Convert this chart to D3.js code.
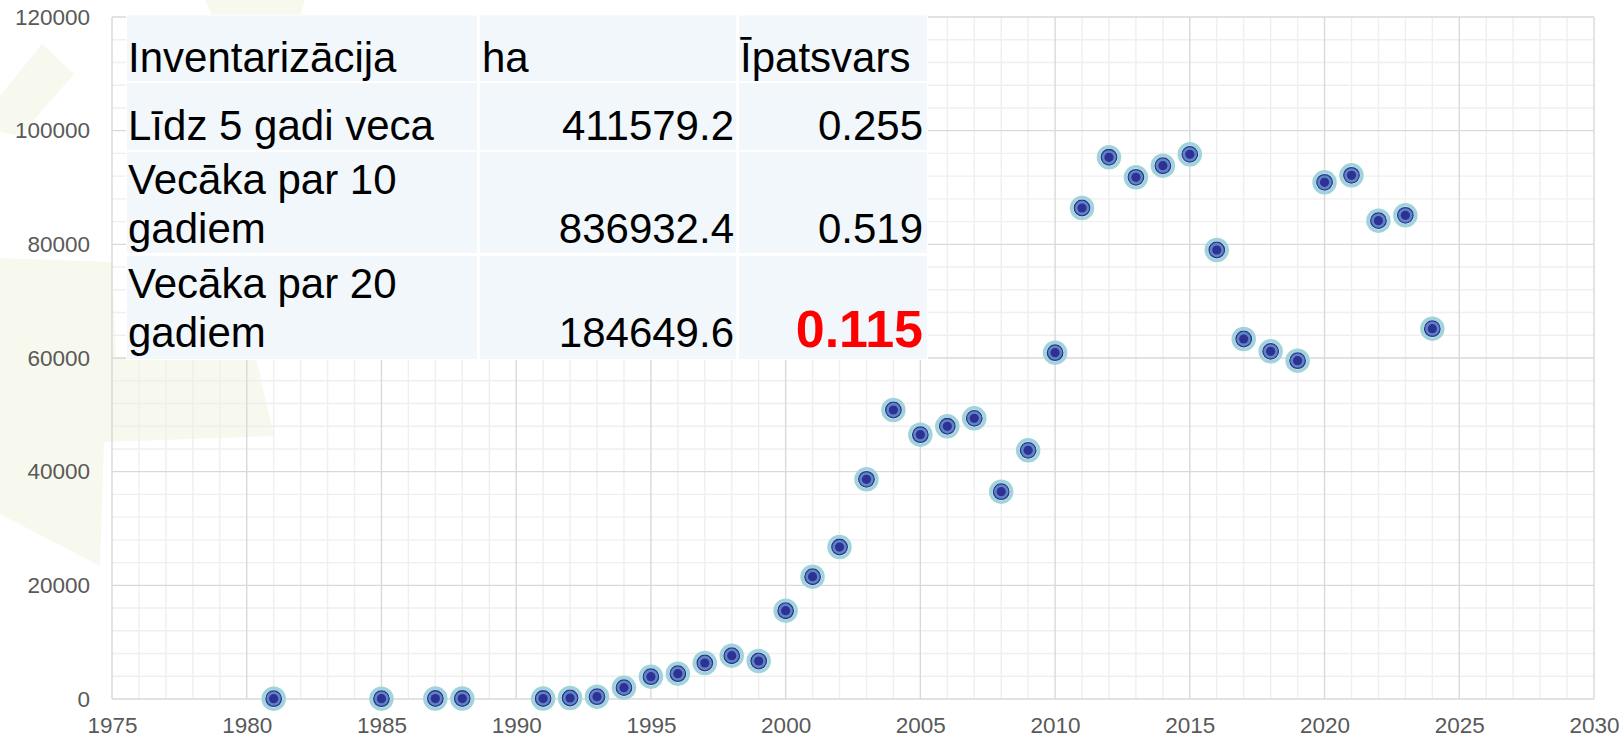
<!DOCTYPE html>
<html>
<head>
<meta charset="utf-8">
<script src="https://cdn.jsdelivr.net/npm/d3@7"></script>
<style>
  html, body { margin: 0; padding: 0; background: #ffffff; }
  svg { display: block; font-family: "Liberation Sans", Arial, sans-serif; }
</style>
</head>
<body>
<svg id="chart" width="1622" height="740"></svg>
<script>
// ---- data ----
const years = [1981, 1985, 1987, 1988, 1991, 1992, 1993, 1994, 1995, 1996, 1997, 1998, 1999,
  2000, 2001, 2002, 2003, 2004, 2005, 2006, 2007, 2008, 2009, 2010, 2011, 2012, 2013, 2014,
  2015, 2016, 2017, 2018, 2019, 2020, 2021, 2022, 2023, 2024];
const values = [60, 60, 80, 80, 80, 180, 410, 2000, 3930, 4460, 6330, 7620, 6690,
  15540, 21520, 26740, 38650, 50850, 46510, 47980, 49380, 36480, 43750, 60940, 86390, 95310, 91790, 93840,
  95830, 79000, 63340, 61170, 59530, 90910, 92140, 84170, 85100, 65160];
const xTicks = [1975, 1980, 1985, 1990, 1995, 2000, 2005, 2010, 2015, 2020, 2025, 2030];
const yTicks = [0, 20000, 40000, 60000, 80000, 100000, 120000];

// table
const tableHeader = ["Inventarizācija", "ha", "Īpatsvars"];
const tableLabels = [["Līdz 5 gadi veca"], ["Vecāka par 10", "gadiem"], ["Vecāka par 20", "gadiem"]];
const tableHa = ["411579.2", "836932.4", "184649.6"];
const tableShare = ["0.255", "0.519", "0.115"];

// ---- layout ----
const svg = d3.select("#chart");
const L = 112, R = 1594, T = 17, B = 699;
const x = d3.scaleLinear().domain([1975, 2030]).range([L, R]);
const y = d3.scaleLinear().domain([0, 120000]).range([B, T]);

// faint decorative background leaves
const leaf = "#f7f9ee";
const deco = [
  [[42,44],[74,74],[20,136],[0,132],[0,96]],
  [[205,0],[305,0],[300,16],[212,16]],
  [[0,258],[112,262],[116,358],[256,358],[274,436],[104,442],[100,566],[0,514]]
];
svg.append("g").selectAll("polygon").data(deco).join("polygon")
  .attr("points", d => d.map(p => p.join(",")).join(" "))
  .attr("fill", leaf);

// minor grid
const gGrid = svg.append("g");
const minorX = d3.range(1975, 2031, 1).filter(v => v % 5 !== 0);
const minorY = d3.range(0, 120001, 4000).filter(v => v % 20000 !== 0);
gGrid.selectAll("line.mx").data(minorX).join("line")
  .attr("x1", d => x(d)).attr("x2", d => x(d)).attr("y1", T).attr("y2", B)
  .attr("stroke", "#efefef").attr("stroke-width", 1.4);
gGrid.selectAll("line.my").data(minorY).join("line")
  .attr("y1", d => y(d)).attr("y2", d => y(d)).attr("x1", L).attr("x2", R)
  .attr("stroke", "#efefef").attr("stroke-width", 1.4);
// major grid
gGrid.selectAll("line.Mx").data(xTicks).join("line")
  .attr("x1", d => x(d)).attr("x2", d => x(d)).attr("y1", T).attr("y2", B)
  .attr("stroke", "#d9d9d9").attr("stroke-width", 1.4);
gGrid.selectAll("line.My").data(yTicks).join("line")
  .attr("y1", d => y(d)).attr("y2", d => y(d)).attr("x1", L).attr("x2", R)
  .attr("stroke", "#d9d9d9").attr("stroke-width", 1.4);

// axes labels via d3 axes
const yAxis = d3.axisLeft(y).tickValues(yTicks).tickSize(0).tickPadding(22).tickFormat(d3.format("d"));
const gy = svg.append("g").attr("transform", `translate(${L},0)`).call(yAxis);
gy.select(".domain").remove();
gy.selectAll("text").attr("fill", "#595959").attr("font-size", 22.5)
  .attr("font-family", "Liberation Sans, Arial, sans-serif");

const xAxis = d3.axisBottom(x).tickValues(xTicks).tickSize(0).tickPadding(18).tickFormat(d3.format("d"));
const gx = svg.append("g").attr("transform", `translate(0,${B})`).call(xAxis);
gx.select(".domain").remove();
gx.selectAll("text").attr("fill", "#595959").attr("font-size", 22.5)
  .attr("font-family", "Liberation Sans, Arial, sans-serif");

// ---- table overlay ----
const colX = [[127, 477], [480, 736], [739, 927]];
const rowY = [[15.5, 81], [83, 150], [152, 253], [256, 359]];
const gT = svg.append("g");
gT.append("rect").attr("x", colX[0][0] - 1).attr("y", rowY[0][0] - 1)
  .attr("width", colX[2][1] - colX[0][0] + 2).attr("height", rowY[3][1] - rowY[0][0] + 2)
  .attr("fill", "#ffffff");
rowY.forEach(r => colX.forEach(c => {
  gT.append("rect").attr("x", c[0]).attr("y", r[0]).attr("width", c[1] - c[0]).attr("height", r[1] - r[0])
    .attr("fill", "#f1f7fb");
}));
const fs = 42;
function txt(s, xx, yy, anchor, opts = {}) {
  gT.append("text").attr("x", xx).attr("y", yy).attr("text-anchor", anchor)
    .attr("font-size", opts.size || fs).attr("fill", opts.fill || "#000000")
    .attr("font-weight", opts.bold ? "bold" : "normal").text(s);
}
// header
txt(tableHeader[0], 128, 71.5, "start");
txt(tableHeader[1], 482, 71.5, "start");
txt(tableHeader[2], 740, 71.5, "start");
// rows
const firstBase = [140, 194, 298];
const lastBase = [140, 243, 346.5];
tableLabels.forEach((lines, i) => {
  lines.forEach((ln, j) => txt(ln, 128, firstBase[i] + j * (lastBase[i] - firstBase[i]), "start"));
  txt(tableHa[i], 734, lastBase[i], "end");
  const isLast = i === tableLabels.length - 1;
  txt(tableShare[i], 923, lastBase[i], "end", isLast ? {fill: "#ff0000", bold: true, size: 52} : {});
});

// ---- markers ----
const pts = years.map((yr, i) => ({yr, v: values[i]}));
const gP = svg.append("g");
const mk = gP.selectAll("g").data(pts).join("g")
  .attr("transform", d => `translate(${x(d.yr)},${y(d.v)})`);
mk.append("circle").attr("r", 10.5).attr("fill", "#ffffff").attr("stroke", "#9fd4da").attr("stroke-width", 3.5);
mk.append("circle").attr("r", 7.8).attr("fill", "#5a86c4").attr("stroke", "#2e3192").attr("stroke-width", 1.3);
mk.append("circle").attr("r", 4.6).attr("fill", "#2e3192");
</script>
</body>
</html>
